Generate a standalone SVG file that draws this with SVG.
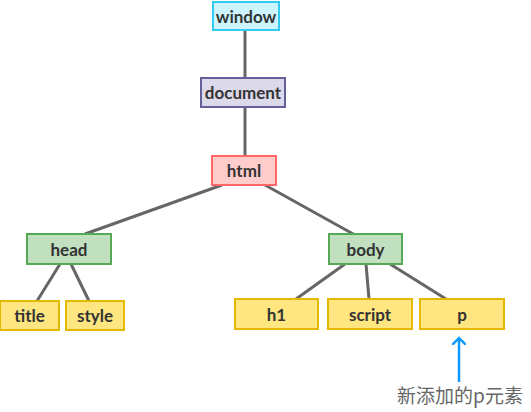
<svg xmlns="http://www.w3.org/2000/svg" width="531" height="412" viewBox="0 0 531 412">
<defs>
<style>
.n rect{stroke-width:2}
.n text{font-family:Lato,"Liberation Sans",sans-serif;font-weight:700;font-size:17px;fill:#333;text-anchor:middle;dominant-baseline:central}
.win rect{fill:#ccf5ff;stroke:#33ccee}
.doc rect{fill:#dcd9ea;stroke:#66609a}
.htm rect{fill:#ffcccc;stroke:#ff6666}
.grn rect{fill:#c0e0c0;stroke:#55aa55}
.yel rect{fill:#ffe680;stroke:#e6b800}
.c line{stroke:#666;stroke-width:3}
</style>
<marker id="ah" markerWidth="14" markerHeight="14" refX="7" refY="7" orient="auto" markerUnits="userSpaceOnUse" viewBox="0 0 14 14"><path d="M0,0 L7,7 L0,14" fill="none" stroke="#1199ff" stroke-width="2.5"/></marker>
</defs>
<rect width="531" height="412" fill="#fff"/>
<g class="c">
<line x1="245" y1="30" x2="245" y2="78"/>
<line x1="245" y1="107" x2="245" y2="156"/>
<line x1="222" y1="185" x2="85" y2="234"/>
<line x1="265" y1="185" x2="355" y2="235"/>
<line x1="60" y1="264" x2="37" y2="301"/>
<line x1="71" y1="264" x2="89" y2="301"/>
<line x1="345" y1="264" x2="296" y2="299"/>
<line x1="366" y1="264" x2="369" y2="299"/>
<line x1="390" y1="264" x2="446" y2="299"/>
</g>
<g id="window" class="n win"><rect x="213" y="2" width="66" height="28"/><text x="246" y="16">window</text></g>
<g id="document" class="n doc"><rect x="201" y="78" width="84" height="29"/><text x="243" y="92.5">document</text></g>
<g id="html" class="n htm"><rect x="212" y="156" width="64" height="29"/><text x="244" y="170.5">html</text></g>
<g id="head" class="n grn"><rect x="27" y="234" width="84" height="30"/><text x="69" y="249">head</text></g>
<g id="body" class="n grn"><rect x="329" y="234" width="73" height="30"/><text x="365.5" y="249">body</text></g>
<g id="title" class="n yel"><rect x="0" y="301" width="59" height="29"/><text x="29.5" y="315.5">title</text></g>
<g id="style" class="n yel"><rect x="66" y="301" width="58" height="29"/><text x="95" y="315.5">style</text></g>
<g id="h1" class="n yel"><rect x="235" y="299" width="83" height="30"/><text x="276.5" y="314">h1</text></g>
<g id="script" class="n yel"><rect x="328" y="299" width="84" height="30"/><text x="370" y="314">script</text></g>
<g id="p" class="n yel"><rect x="420" y="299" width="84" height="30"/><text x="462" y="314">p</text></g>
<g id="note">
<line x1="459" y1="382" x2="459" y2="338" stroke="#1199ff" stroke-width="2.5" marker-end="url(#ah)"/>
<text x="460" y="403" font-family="'Noto Sans CJK SC','Noto Sans',sans-serif" font-size="19" fill="#666" text-anchor="middle">新添加的p元素</text>
</g>
</svg>
